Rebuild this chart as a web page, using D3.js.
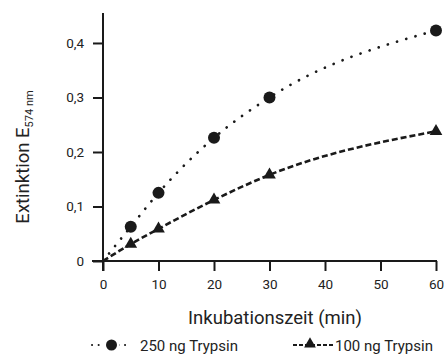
<!DOCTYPE html>
<html><head><meta charset="utf-8">
<script src="https://cdn.jsdelivr.net/npm/d3@7"></script>
<style>body{margin:0;background:#fff}svg{display:block}text{font-family:Roboto,"Liberation Sans",sans-serif;fill:#222;font-weight:400}</style>
</head><body><svg id="c" width="444" height="364"></svg>
<script>
const times = [5, 10, 20, 30, 60];
const trypsin250 = [0.063, 0.125, 0.226, 0.300, 0.423];
const trypsin100 = [0.031, 0.059, 0.112, 0.158, 0.238];
const xTicks = [0, 10, 20, 30, 40, 50, 60];
const yTicks = [0, 0.1, 0.2, 0.3, 0.4];
const yTickLabels = ["0", "0,1", "0,2", "0,3", "0,4"];
const seriesNames = ["250 ng Trypsin", "100 ng Trypsin"];

const svg = d3.select("#c");
const x = d3.scaleLinear().domain([0, 60]).range([103, 436]);
const y = d3.scaleLinear().domain([0, 0.455]).range([261, 13]);
const ink = "#1a1a1a";

// axes
const gx = svg.append("g").attr("transform", `translate(0,${y(0)})`)
  .call(d3.axisBottom(x).tickValues(xTicks).tickSize(10).tickSizeOuter(0).tickPadding(8).tickFormat(d3.format("d")));
const gy = svg.append("g").attr("transform", `translate(${x(0)},0)`)
  .call(d3.axisLeft(y).tickValues(yTicks).tickSize(10).tickSizeOuter(0).tickPadding(9).tickFormat((d,i)=>yTickLabels[i]));
[gx, gy].forEach(g => {
  g.select(".domain").remove();
  g.selectAll(".tick line").attr("stroke", ink).attr("stroke-width", 2);
  g.selectAll(".tick text").style("font-size", "13.5px").style("font-family", "Roboto").style("font-weight", "400").attr("fill", "#333");
});
svg.append("line").attr("x1", x(0) - 11).attr("x2", x(60) + 1).attr("y1", y(0)).attr("y2", y(0)).attr("stroke", ink).attr("stroke-width", 2);
svg.append("line").attr("x1", x(0)).attr("x2", x(0)).attr("y1", y(0) + 10).attr("y2", y.range()[1]).attr("stroke", ink).attr("stroke-width", 2);

// curves
const line = d3.line().x(d => x(d[0])).y(d => y(d[1])).curve(d3.curveMonotoneX);
const d250 = [[0, 0]].concat(times.map((t, i) => [t, trypsin250[i]]));
const d100 = [[0, 0]].concat(times.map((t, i) => [t, trypsin100[i]]));
svg.append("path").attr("d", line(d250)).attr("fill", "none").attr("stroke", ink)
  .attr("stroke-width", 2.7).attr("stroke-dasharray", "0.1 9.5").attr("stroke-linecap", "round");
svg.append("path").attr("d", line(d100)).attr("fill", "none").attr("stroke", ink)
  .attr("stroke-width", 2.6).attr("stroke-dasharray", "6 3");

// markers
svg.selectAll("circle.m").data(times).join("circle").attr("class", "m")
  .attr("cx", (d) => x(d)).attr("cy", (d, i) => y(trypsin250[i])).attr("r", 6).attr("fill", ink);
const tri = d3.symbol().type(d3.symbolTriangle).size(70);
svg.selectAll("path.t").data(times).join("path").attr("class", "t")
  .attr("d", tri).attr("transform", (d, i) => `translate(${x(d)},${y(trypsin100[i])})`).attr("fill", ink);

// axis titles
svg.append("text").attr("x", 275).attr("y", 324).attr("text-anchor", "middle")
  .style("font-size", "18.5px").text("Inkubationszeit (min)");
const yt = svg.append("text").attr("transform", "translate(29,157) rotate(-90)").attr("text-anchor", "middle")
  .style("font-size", "18.5px");
yt.append("tspan").text("Extinktion E");
yt.append("tspan").attr("dy", 4).style("font-size", "11px").text("574 nm");

// legend
const lg = svg.append("g");
lg.append("line").attr("x1", 92).attr("x2", 131).attr("y1", 345).attr("y2", 345).attr("stroke", ink)
  .attr("stroke-width", 2).attr("stroke-dasharray", "0.1 6.5").attr("stroke-linecap", "round");
lg.append("rect").attr("x", 104).attr("y", 338).attr("width", 15).attr("height", 14).attr("fill", "#fff");
lg.append("circle").attr("cx", 111.5).attr("cy", 345).attr("r", 5.5).attr("fill", ink);
lg.append("text").attr("x", 140).attr("y", 350.5).style("font-size", "15px").text(seriesNames[0]);
lg.append("line").attr("x1", 293).attr("x2", 333).attr("y1", 345).attr("y2", 345).attr("stroke", ink)
  .attr("stroke-width", 2.2).attr("stroke-dasharray", "4 2");
lg.append("path").attr("d", d3.symbol().type(d3.symbolTriangle).size(60)).attr("transform", "translate(310,344)").attr("fill", ink);
lg.append("text").attr("x", 335).attr("y", 350.5).style("font-size", "15px").text(seriesNames[1]);
</script></body></html>
